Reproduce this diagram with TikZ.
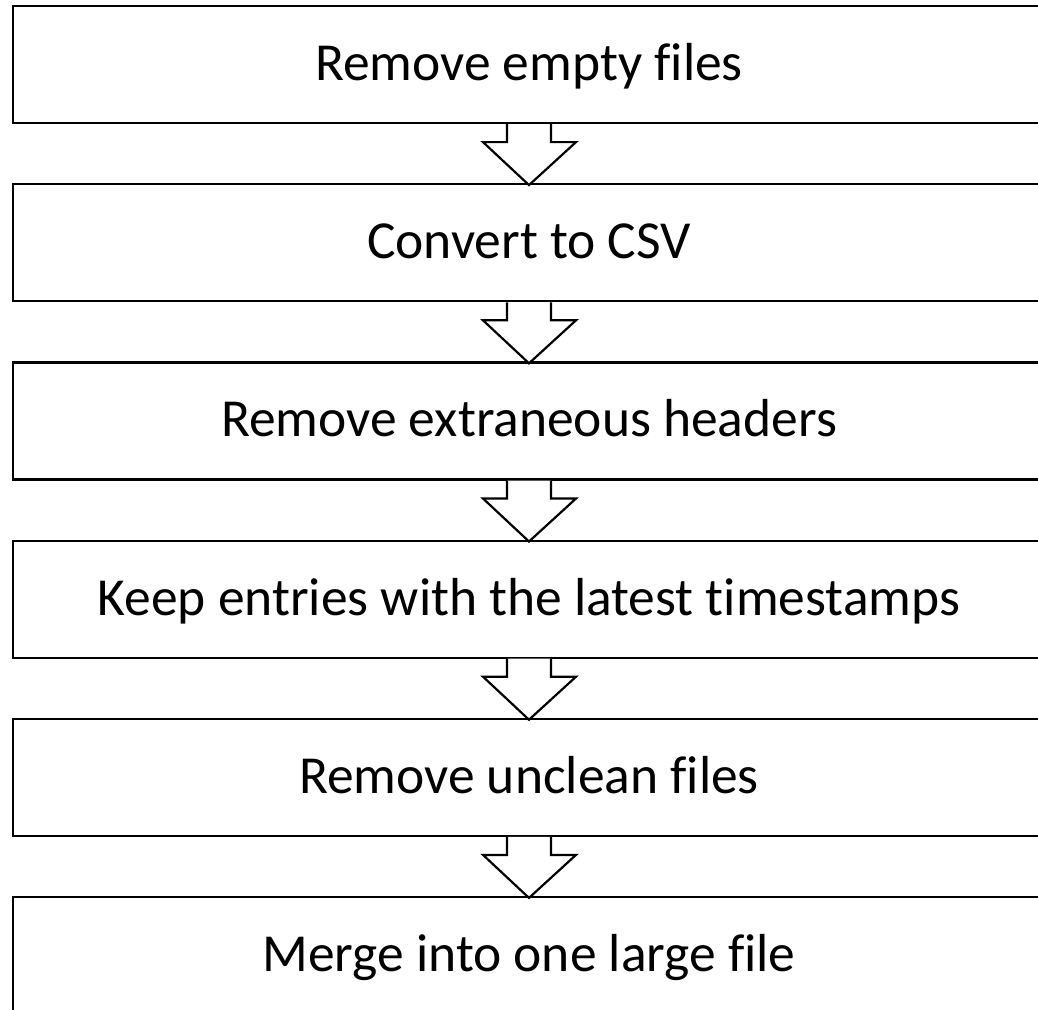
\documentclass[tikz,border=0pt]{standalone}
\usepackage{fontspec}
\setmainfont{Carlito}[Ligatures=NoCommon]
\usetikzlibrary{calc}
\begin{document}
\begin{tikzpicture}[x=1pt,y=-1pt,
  stepbox/.style={draw=black, line width=2.2pt, rectangle, minimum width=1032pt,
    minimum height=117pt, inner sep=0pt, text height=34pt, text depth=2pt,
    font=\fontsize{53.5}{60}\selectfont},
  blockarrow/.style={draw=black, line width=2.2pt, fill=white, line join=miter}]
\useasboundingbox (0,0) rectangle (1038,1009);
\clip (0,0) rectangle (1038,1009);
% process steps, top to bottom
\node[stepbox] (s1) at (529, 64.5) {Remove empty files};
\node[stepbox] (s2) at (529, 242.7) {Convert to CSV};
\node[stepbox] (s3) at (529, 420.9) {Remove extraneous headers};
\node[stepbox] (s4) at (529, 599.1) {Keep entries with the latest timestamps};
\node[stepbox] (s5) at (529, 777.3) {Remove unclean files};
\node[stepbox] (s6) at (529, 955.5) {Merge into one large file};
% hollow block arrows between consecutive steps
\foreach \a/\b in {s1/s2, s2/s3, s3/s4, s4/s5, s5/s6}{
  \draw[blockarrow]
    ($(\a.south)+(-22,0)$) -- ($(\a.south)+(-22,18)$) -- ($(\a.south)+(-46,18)$)
    -- ($(\b.north)+(0,2)$)
    -- ($(\a.south)+(47,18)$) -- ($(\a.south)+(22,18)$) -- ($(\a.south)+(22,0)$);
}
\end{tikzpicture}
\end{document}
